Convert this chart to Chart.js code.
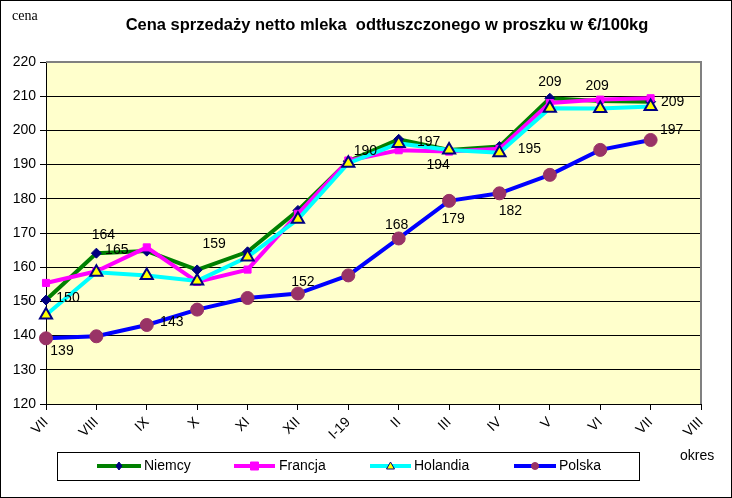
<!DOCTYPE html>
<html>
<head>
<meta charset="utf-8">
<script src="https://cdn.jsdelivr.net/npm/chart.js@4/dist/chart.umd.min.js"></script>
<style>
html,body{margin:0;padding:0;background:#fff;}
canvas{display:block;}
</style>
</head>
<body>
<canvas id="c" width="732" height="498"></canvas>
<script>
const categories = ['VII','VIII','IX','X','XI','XII','I-19','II','III','IV','V','VI','VII','VIII'];
const niemcy   = [150.4,164.1,164.7,159.2,164.5,176.6,191.0,197.4,194.3,195.3,209.4,208.6,208.4,null];
const francja  = [155.4,158.8,165.8,155.7,159.3,175.6,191.2,194.2,193.8,194.6,208.0,209.0,209.4,null];
const holandia = [146.0,158.5,157.6,156.0,163.0,174.0,190.4,196.2,194.3,193.5,206.5,206.4,207.0,null];
const polska   = [139.2,139.8,143.1,147.6,151.0,152.3,157.6,168.4,179.4,181.6,187.0,194.3,197.2,null];
const seriesNames = ['Niemcy','Francja','Holandia','Polska'];
const yTicksMin = 120, yTicksMax = 220, yStep = 10;
const titleText = 'Cena sprzedaży netto mleka  odtłuszczonego w proszku w €/100kg';

// data labels: [series index, point index, dx, dy] (placement only)
const labelSpots = [
  [0,0,22,-2],[0,1,7,-18],[0,2,-30,-1],[0,3,17,-26],[2,6,17,-12],[0,7,30,3],
  [2,8,-11,15],[0,9,30,3],[0,10,0,-16],[1,11,-3,-13],[1,12,22,4],
  [3,0,16,13],[3,2,25,-3],[3,5,5,-11],[3,7,-2,-13],[3,8,4,18],[3,9,11,18],[3,12,21,-10]
];

const FONT = "'Liberation Sans', Arial, sans-serif";

const styles = [
  {line:'#008000', ps:'rectRot', bg:'#000080', bd:'#000080', r:5, bw:1, order:4},
  {line:'#FF00FF', ps:'rect', bg:'#FF00FF', bd:'#FF00FF', r:5, bw:1, order:3},
  {line:'#00FFFF', ps:'triangle', bg:'#FFFF00', bd:'#000080', r:7, bw:2, order:2},
  {line:'#0000FF', ps:'circle', bg:'#993366', bd:'#993366', r:6.5, bw:1, order:1}
];
const allSeries = [niemcy, francja, holandia, polska];

const datasets = allSeries.map((d,i)=>({
  label: seriesNames[i],
  data: d,
  borderColor: styles[i].line,
  backgroundColor: styles[i].line,
  borderWidth: 4,
  pointStyle: styles[i].ps,
  pointRadius: styles[i].r,
  pointHoverRadius: styles[i].r,
  pointBackgroundColor: styles[i].bg,
  pointBorderColor: styles[i].bd,
  pointBorderWidth: styles[i].bw,
  tension: 0,
  order: styles[i].order,
  fill: false
}));

const decor = {
  id: 'decor',
  beforeDraw(chart) {
    const ctx = chart.ctx, a = chart.chartArea;
    ctx.save();
    ctx.fillStyle = '#fff';
    ctx.fillRect(0,0,chart.width,chart.height);
    ctx.fillStyle = '#FFFFCC';
    ctx.fillRect(a.left, a.top, a.right-a.left, a.bottom-a.top);
    ctx.restore();
  },
  afterDraw(chart) {
    const ctx = chart.ctx, a = chart.chartArea;
    ctx.save();
    ctx.strokeStyle = '#808080';
    ctx.lineWidth = 2;
    ctx.beginPath();
    ctx.moveTo(a.left, a.top); ctx.lineTo(a.right, a.top); ctx.lineTo(a.right, a.bottom);
    ctx.stroke();
    ctx.strokeStyle = '#000';
    ctx.lineWidth = 1;
    ctx.strokeRect(0.5,0.5,chart.width-1,chart.height-1);
    ctx.fillStyle = '#000';
    ctx.textAlign = 'center';
    ctx.textBaseline = 'middle';
    ctx.font = 'bold 16.5px ' + FONT;
    ctx.fillText(titleText, 387, 25);
    ctx.font = "14px 'Liberation Serif', 'Times New Roman', serif";
    ctx.textAlign = 'left';
    ctx.fillText('cena', 12, 16);
    ctx.font = '14px ' + FONT;
    ctx.fillText('okres', 680, 456);
    ctx.textAlign = 'center';
    ctx.font = '14px ' + FONT;
    labelSpots.forEach(([s,p,dx,dy])=>{
      const pt = chart.getDatasetMeta(s).data[p];
      const v = chart.data.datasets[s].data[p];
      ctx.fillText(String(Math.round(v)), pt.x+dx, pt.y+dy);
    });
    ctx.strokeStyle = '#000';
    ctx.lineWidth = 1;
    ctx.strokeRect(57.5, 452.5, 582, 28);
    const items = [[97,141,144],[234,275,279],[370,411,414],[514,556,559]];
    const ly = 466;
    items.forEach(([x1,x2,tx],i)=>{
      const st = styles[i];
      ctx.strokeStyle = st.line;
      ctx.lineWidth = 4;
      ctx.beginPath(); ctx.moveTo(x1,ly); ctx.lineTo(x2,ly); ctx.stroke();
      const mx = (x1+x2)/2;
      ctx.fillStyle = st.bg; ctx.strokeStyle = st.bd; ctx.lineWidth = 1;
      ctx.beginPath();
      if (st.ps==='rectRot'){ ctx.moveTo(mx,ly-4); ctx.lineTo(mx+3,ly); ctx.lineTo(mx,ly+4); ctx.lineTo(mx-3,ly); ctx.closePath(); }
      else if (st.ps==='rect'){ ctx.rect(mx-4,ly-4,8,8); }
      else if (st.ps==='triangle'){ ctx.moveTo(mx,ly-4); ctx.lineTo(mx+4,ly+3); ctx.lineTo(mx-4,ly+3); ctx.closePath(); }
      else { ctx.arc(mx,ly,3.5,0,Math.PI*2); }
      ctx.fill(); ctx.stroke();
      ctx.fillStyle = '#000';
      ctx.textAlign = 'left';
      ctx.font = '14px ' + FONT;
      ctx.fillText(seriesNames[i], tx, ly);
    });
    ctx.restore();
  }
};

new Chart(document.getElementById('c'), {
  type: 'line',
  data: { labels: categories, datasets },
  options: {
    responsive: false,
    animation: false,
    events: [],
    layout: { padding: { top: 62, left: 0, right: 31, bottom: 0 } },
    plugins: { legend: { display: false }, title: { display: false }, tooltip: { enabled: false } },
    scales: {
      x: {
        offset: false,
        grid: { drawOnChartArea: false, drawTicks: true, tickLength: 6, color: '#000' },
        border: { color: '#000', width: 1 },
        ticks: { minRotation: 45, maxRotation: 45, autoSkip: false, color: '#000', padding: 4, font: { family: FONT, size: 14 } },
        afterFit(s) { s.height = 94; }
      },
      y: {
        min: yTicksMin, max: yTicksMax,
        grid: { color: '#000', tickLength: 6, lineWidth: 1 },
        border: { color: '#000', width: 1 },
        ticks: { stepSize: yStep, color: '#000', padding: 4, font: { family: FONT, size: 14 } },
        afterFit(s) { s.width = 46; }
      }
    }
  },
  plugins: [decor]
});
</script>
</body>
</html>
